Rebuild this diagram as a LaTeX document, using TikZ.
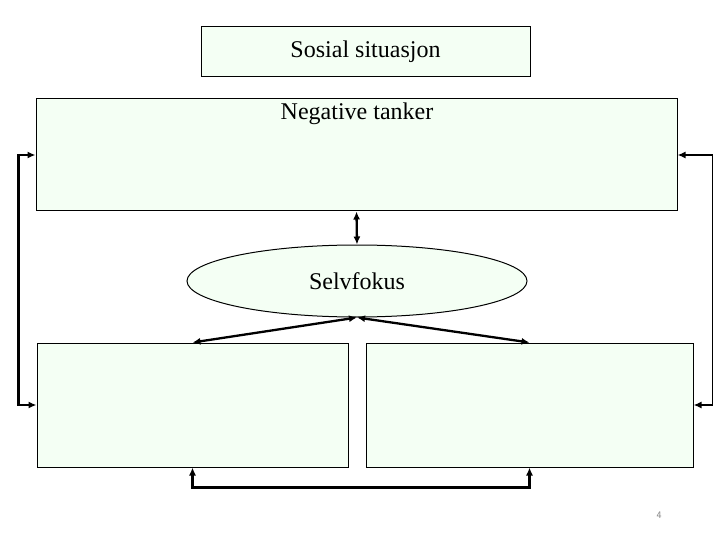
\documentclass[tikz,border=0pt]{standalone}
\usepackage{fontspec}
\setmainfont{Liberation Serif}
\usetikzlibrary{arrows.meta,shapes.geometric}
\definecolor{boxfill}{RGB}{244,255,244}
\definecolor{numgray}{RGB}{128,128,128}
\begin{document}
\begin{tikzpicture}[x=1pt,y=-1pt,
  box/.style={draw=black,line width=1pt,fill=boxfill,inner sep=0pt,font=\fontsize{24}{28}\selectfont},
  conn/.style={line width=2.3pt,{Latex[length=8pt,width=7pt]}-{Latex[length=8pt,width=7pt]}}]
\useasboundingbox (0,0) rectangle (720,540);
\node[box,minimum width=329pt,minimum height=50pt] (sos) at (365.5,52) {Sosial situasjon};
\node[box,minimum width=641pt,minimum height=112pt] (neg) at (356.5,155) {};
\node[font=\fontsize{24}{28}\selectfont,anchor=center] (negtxt) at (357,114) {Negative tanker};
\node[box,ellipse,minimum width=340pt,minimum height=72pt] (self) at (357,281) {Selvfokus};
\node[box,minimum width=311pt,minimum height=124pt] (bl) at (192.5,405) {};
\node[box,minimum width=327pt,minimum height=124pt] (br) at (529.5,405) {};
\node[font=\sffamily\fontsize{10}{12}\selectfont,text=numgray] (num) at (659,515) {4};
\draw[conn] (neg.south) -- (self.north);
\draw[conn] (self.south) -- (bl.north);
\draw[conn] (self.south) -- (br.north);
\draw[conn] (neg.west) -- ++(-17,0) |- (bl.west);
\draw[conn,line width=1.8pt] (neg.east) -- ([xshift=35pt]neg.east) |- (br.east);
\draw[conn] (bl.south) -- ++(0,20) -| (br.south);
\end{tikzpicture}
\end{document}
